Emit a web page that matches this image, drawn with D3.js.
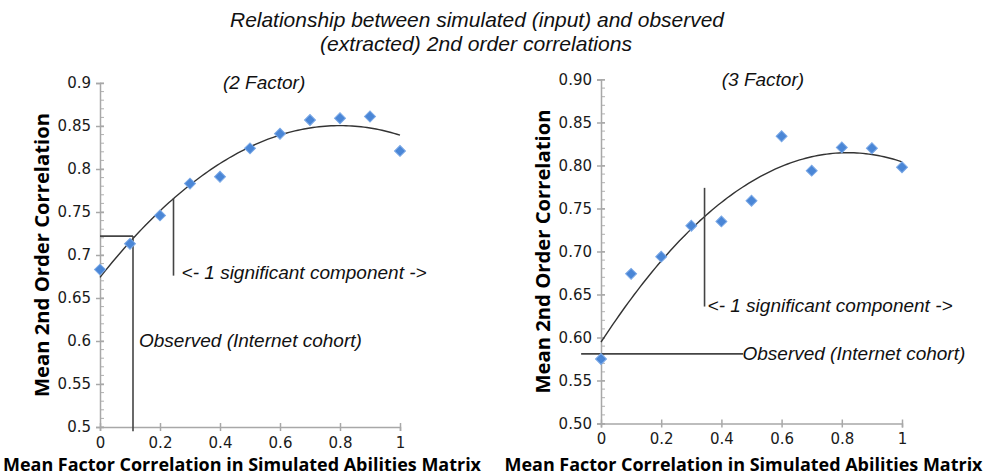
<!DOCTYPE html>
<html>
<head>
<meta charset="utf-8">
<script src="https://cdn.jsdelivr.net/npm/d3@7"></script>
<style>
  body { margin: 0; background: #fff; }
  svg { display: block; }
</style>
</head>
<body>
<svg id="chart" width="992" height="476"></svg>
<script>
// simulated (input) factor correlations
const xVals = [0, 0.1, 0.2, 0.3, 0.4, 0.5, 0.6, 0.7, 0.8, 0.9, 1];
// observed 2nd order correlations
const twoFactor = [0.683, 0.713, 0.746, 0.783, 0.791, 0.824, 0.841, 0.857, 0.859, 0.861, 0.821];
const threeFactor = [0.575, 0.674, 0.694, 0.730, 0.735, 0.759, 0.834, 0.794, 0.821, 0.820, 0.798];
const xTicks = [0, 0.2, 0.4, 0.6, 0.8, 1];
const yTicks = [0.5, 0.55, 0.6, 0.65, 0.7, 0.75, 0.8, 0.85, 0.9];

const svg = d3.select('#chart');

// title
const title = svg.append('text')
    .attr('text-anchor', 'middle')
    .style('font-family', 'Liberation Sans, Arial, sans-serif')
    .style('font-style', 'italic')
    .style('font-size', '21px')
    .attr('fill', '#111');
title.append('tspan').attr('x', 477).attr('y', 27)
    .attr('textLength', 494).attr('lengthAdjust', 'spacingAndGlyphs')
    .text('Relationship between simulated (input) and observed');
title.append('tspan').attr('x', 476).attr('y', 51)
    .attr('textLength', 312).attr('lengthAdjust', 'spacingAndGlyphs')
    .text('(extracted) 2nd order correlations');

// least squares quadratic, like the spreadsheet trendline
function quadFit(xs, ys) {
    let s = [0, 0, 0, 0, 0], t = [0, 0, 0];
    xs.forEach(function (x, i) {
        for (let k = 0; k < 5; k++) s[k] += Math.pow(x, k);
        for (let k = 0; k < 3; k++) t[k] += ys[i] * Math.pow(x, k);
    });
    const A = [[s[0], s[1], s[2], t[0]], [s[1], s[2], s[3], t[1]], [s[2], s[3], s[4], t[2]]];
    for (let i = 0; i < 3; i++) {
        for (let j = i + 1; j < 3; j++) {
            const f = A[j][i] / A[i][i];
            for (let k = i; k < 4; k++) A[j][k] -= f * A[i][k];
        }
    }
    const c = [0, 0, 0];
    for (let i = 2; i >= 0; i--) {
        let v = A[i][3];
        for (let k = i + 1; k < 3; k++) v -= A[i][k] * c[k];
        c[i] = v / A[i][i];
    }
    return function (x) { return c[0] + c[1] * x + c[2] * x * x; };
}

function drawPanel(opt) {
    const xScale = d3.scaleLinear().domain([0, 1]).range([opt.left, opt.right]);
    const yScale = d3.scaleLinear().domain([0.5, 0.9]).range([opt.bottom, opt.top]);
    const g = svg.append('g');

    // minor ticks on y axis
    g.selectAll('line.minor')
        .data(d3.range(50, 91).map(function (d) { return d / 100; }))
        .join('line')
        .attr('x1', xScale(0)).attr('x2', xScale(0) + 4)
        .attr('y1', function (d) { return yScale(d); })
        .attr('y2', function (d) { return yScale(d); })
        .attr('stroke', '#b0b0b0');

    const yAxis = g.append('g')
        .attr('transform', `translate(${xScale(0)},0)`)
        .call(d3.axisLeft(yScale).tickValues(yTicks).tickFormat(opt.yFmt).tickSize(4).tickPadding(5));
    const xAxis = g.append('g')
        .attr('transform', `translate(0,${yScale(0.5)})`)
        .call(d3.axisBottom(xScale).tickValues(xTicks).tickFormat(d3.format('')).tickSize(4).tickPadding(6));
    [xAxis, yAxis].forEach(function (a) {
        a.select('.domain').attr('stroke', '#a8a8a8').attr('stroke-width', 1.5);
        a.selectAll('.tick line').attr('stroke', '#a8a8a8').attr('stroke-width', 1.5);
        a.selectAll('text')
            .style('font-family', 'DejaVu Sans, sans-serif')
            .style('font-size', '15px')
            .attr('fill', '#1a1a1a');
    });
    xAxis.selectAll('.tick line').attr('y1', -4);
    yAxis.selectAll('.tick line').attr('x2', 4).attr('x1', -4);

    // trendline
    const fit = quadFit(xVals, opt.values);
    g.append('path')
        .datum(d3.range(0, 1.0001, 0.01))
        .attr('d', d3.line()
            .x(function (d) { return xScale(d); })
            .y(function (d) { return yScale(fit(d)); }))
        .attr('fill', 'none')
        .attr('stroke', '#333')
        .attr('stroke-width', 1.4);

    // annotation lines
    g.selectAll('line.note')
        .data(opt.notes)
        .join('line')
        .attr('x1', function (d) { return xScale(d[0]); })
        .attr('y1', function (d) { return yScale(d[1]); })
        .attr('x2', function (d) { return xScale(d[2]); })
        .attr('y2', function (d) { return yScale(d[3]); })
        .attr('stroke', '#444')
        .attr('stroke-width', 1.6);

    // diamonds
    g.selectAll('path.pt')
        .data(opt.values)
        .join('path')
        .attr('d', d3.symbol(d3.symbolSquare, 60))
        .attr('transform', function (d, i) {
            return `translate(${xScale(xVals[i])},${yScale(d)}) rotate(45)`;
        })
        .attr('fill', '#4a86d6')
        .attr('stroke', '#7aa8e6')
        .attr('stroke-width', 1);

    // texts
    opt.labels.forEach(function (l) {
        g.append('text')
            .attr('x', xScale(l.x)).attr('y', yScale(l.y))
            .attr('text-anchor', l.anchor || 'start')
            .attr('fill', '#111')
            .style('font-family', 'Liberation Sans, Arial, sans-serif')
            .style('font-style', 'italic')
            .style('font-size', '19px')
            .text(l.text);
    });

    g.append('text')
        .attr('x', (opt.left + opt.right) / 2 - 8).attr('y', 471)
        .attr('text-anchor', 'middle')
        .style('font-family', 'Open Sans, sans-serif')
        .style('font-weight', 'bold')
        .style('font-size', '18px')
        .attr('textLength', 478)
        .attr('lengthAdjust', 'spacingAndGlyphs')
        .attr('fill', '#000')
        .text('Mean Factor Correlation in Simulated Abilities Matrix');

    g.append('text')
        .attr('transform', `translate(${opt.left - 51},${(opt.top + opt.bottom) / 2}) rotate(-90)`)
        .attr('text-anchor', 'middle')
        .style('font-family', 'Open Sans, sans-serif')
        .style('font-weight', 'bold')
        .style('font-size', '20px')
        .attr('textLength', 284)
        .attr('lengthAdjust', 'spacingAndGlyphs')
        .attr('fill', '#000')
        .text('Mean 2nd Order Correlation');
}

drawPanel({
    left: 100, right: 400, top: 83, bottom: 427,
    values: twoFactor,
    yFmt: d3.format(''),
    notes: [[0, 0.722, 0.11, 0.722], [0.11, 0.722, 0.11, 0.495], [0.245, 0.766, 0.245, 0.676]],
    labels: [
        { x: 0.547, y: 0.893, text: '(2 Factor)', anchor: 'middle' },
        { x: 0.272, y: 0.672, text: '<- 1 significant component ->' },
        { x: 0.13, y: 0.593, text: 'Observed (Internet cohort)' }
    ]
});

drawPanel({
    left: 601, right: 902, top: 79.5, bottom: 423.5,
    values: threeFactor,
    yFmt: d3.format('.2f'),
    notes: [[-0.066, 0.581, 0.472, 0.581], [0.344, 0.774, 0.344, 0.636]],
    labels: [
        { x: 0.538, y: 0.893, text: '(3 Factor)', anchor: 'middle' },
        { x: 0.354, y: 0.63, text: '<- 1 significant component ->' },
        { x: 0.47, y: 0.574, text: 'Observed (Internet cohort)' }
    ]
});
</script>
</body>
</html>
